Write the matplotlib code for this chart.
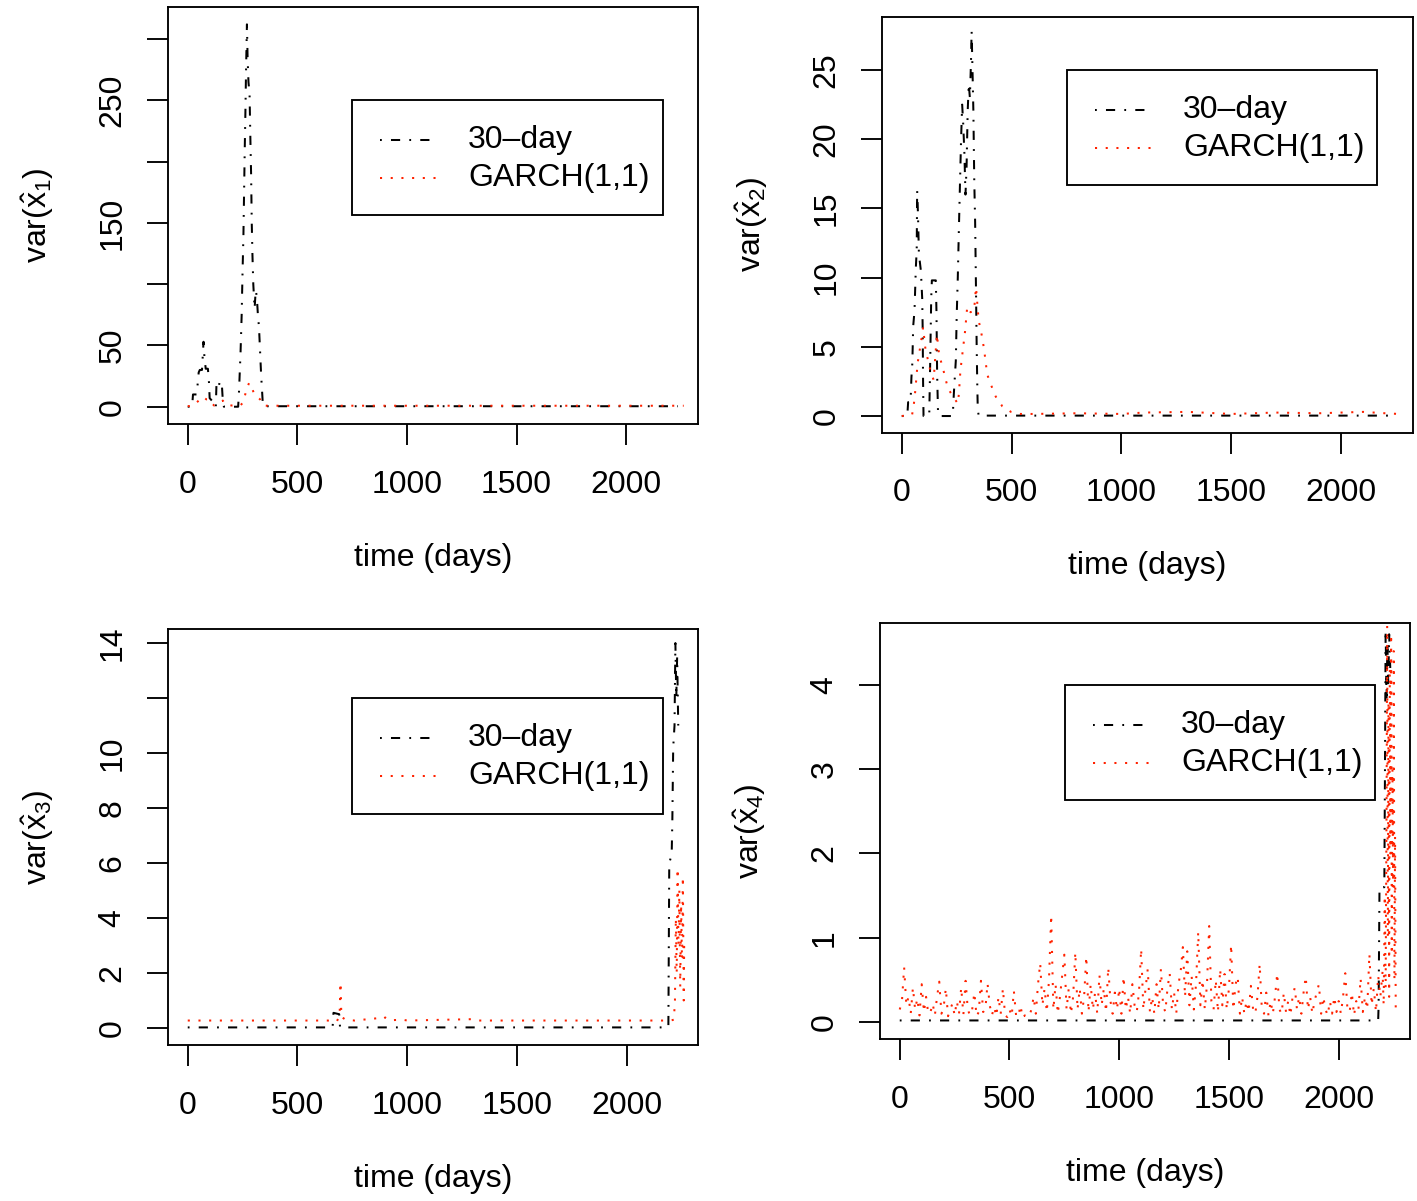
import matplotlib
matplotlib.use("Agg")
import matplotlib.pyplot as plt
from matplotlib.patches import Rectangle
from matplotlib.lines import Line2D

plt.rcParams['font.family'] = ['Liberation Sans', 'DejaVu Sans']
plt.rcParams['mathtext.fontset'] = 'custom'
plt.rcParams['mathtext.rm'] = 'Liberation Sans'
plt.rcParams['mathtext.it'] = 'Liberation Sans:italic'
plt.rcParams['mathtext.bf'] = 'Liberation Sans:bold'
plt.rcParams['lines.scale_dashes'] = False

# ---------------- data (days, values) ----------------
# Panel 1: var(x1)
p1_30_day = [0, 20, 24, 40, 44, 50, 55, 65, 72, 76, 82, 92, 97, 100, 110, 118, 128, 131, 140, 146,
             155, 160, 165, 230, 234, 241, 246, 250, 254, 257, 260, 263, 266, 270, 273, 277, 282, 285,
             289, 292, 295, 299, 302, 305, 310, 315, 320, 325, 330, 335, 340, 343, 350, 2235]
p1_30_val = [0, 0, 10, 10, 16, 28, 30, 30, 53, 41, 31, 31, 19.5, 7, 5, 0, 0, 18, 15, 20.6,
             20, 5, 0, 0, 13, 45, 75, 110, 140, 175, 210, 240, 275, 312, 285, 265, 255, 225,
             190, 150, 125, 100, 90, 80, 95, 90, 75, 65, 45, 25, 10, 0.5, 0.4, 0.4]
p1_g_day = [0, 20, 38, 50, 70, 85, 100, 115, 120, 140, 160, 170, 200, 240, 250, 258, 265, 270, 280,
            288, 295, 305, 317, 330, 340, 345, 360, 700, 1200, 1700, 2262]
p1_g_val = [0.5, 0.5, 3, 5, 8, 6, 6, 2, 1, 3, 5, 2, 1, 1, 3, 7, 12, 15, 19.5,
            16, 14, 10, 8, 6, 3, 1, 0.8, 0.8, 0.8, 0.8, 0.8]

# Panel 2: var(x2)
p2_30_day = [0, 25, 29, 40, 44, 48, 52, 58, 64, 68, 70, 74, 78, 87, 93, 95, 97, 99, 125, 129, 134,
             137, 155, 158, 161, 165, 168, 232, 237, 246, 250, 255, 260, 265, 270, 275, 280, 285, 290,
             295, 300, 305, 310, 315, 318, 322, 326, 330, 334, 338, 341, 344, 346, 350, 2235]
p2_30_val = [0, 0, 1, 1, 2.8, 3.8, 6.5, 7.6, 10.7, 12, 16.3, 14.5, 11.7, 10.5, 8.5, 6.5, 2.5, 0, 0, 3.5, 8.5,
             9.8, 9.8, 7.5, 3, 0.3, 0, 0, 1.6, 4, 7.2, 10, 13.5, 16.8, 20, 22.5, 21, 19, 16,
             18, 22, 24, 23, 25.5, 27.8, 25, 22, 17, 14, 9, 5, 2, 0.5, 0.03, 0.03]
p2_g_day = [0, 47, 54, 62, 72, 80, 90, 97, 108, 120, 130, 145, 160, 170, 185, 210, 230, 255, 260, 267,
            279, 288, 298, 313, 329, 338, 350, 361, 370, 378, 389, 410, 428, 458, 497, 540, 600, 800,
            1000, 1100, 1300, 1500, 1700, 1900, 2100, 2200, 2262]
p2_g_val = [0, 0.1, 0.7, 1.9, 3.8, 4.6, 5.6, 6.4, 4.8, 4.0, 3.3, 2.6, 5.9, 4.4, 3.6, 2.0, 1.5, 0.9, 1.6, 3.3,
            4.9, 6.1, 7.9, 7.5, 7.6, 9.3, 6.9, 6.1, 5.3, 4.4, 3.0, 2.1, 1.4, 0.7, 0.3, 0.15, 0.15, 0.2,
            0.15, 0.25, 0.3, 0.15, 0.25, 0.2, 0.3, 0.2, 0.15]

# Panel 3: var(x3)
p3_30_day = [0, 660, 664, 690, 694, 2190, 2194, 2205, 2208, 2212, 2218, 2222, 2226, 2230, 2235]
p3_30_val = [0.02, 0.02, 0.55, 0.5, 0.02, 0.02, 6.0, 6.3, 7.5, 10.2, 11, 14, 12, 13.5, 11]
p3_g_day = [0, 640, 660, 680, 692, 696, 700, 720, 760, 860, 880, 900, 920, 980, 1000, 1300, 1320,
            2200, 2215, 2220, 2224, 2228, 2232, 2236, 2240, 2244, 2248, 2252, 2256, 2260, 2262]
p3_g_val = [0.27, 0.27, 0.3, 0.25, 0.45, 1.65, 0.4, 0.3, 0.27, 0.35, 0.3, 0.38, 0.28, 0.3, 0.27, 0.32, 0.27,
            0.27, 0.3, 1.0, 4.0, 2.0, 5.8, 3.0, 5.0, 1.5, 4.5, 2.5, 5.5, 1.0, 3.0]

# Panel 4: var(x4)
p4_30_day = [0, 2180, 2182, 2186, 2208, 2211, 2214, 2218, 2222, 2226, 2230, 2235]
p4_30_val = [0.02, 0.02, 0.2, 1.6, 1.6, 3.0, 4.65, 3.8, 4.5, 4.0, 4.6, 4.2]
p4_g_day = list(range(0, 2190, 10)) + [2190, 2200, 2205, 2210, 2214, 2218, 2221, 2224, 2227, 2230,
                                       2233, 2236, 2239, 2242, 2245, 2248, 2251, 2254, 2257, 2260, 2264]
p4_g_val = [0.15, 0.25, 0.65, 0.2, 0.3, 0.1, 0.41, 0.15, 0.28, 0.08,
            0.45, 0.12, 0.3, 0.1, 0.12, 0.22, 0.08, 0.3, 0.48, 0.1,
            0.18, 0.4, 0.07, 0.15, 0.22, 0.08, 0.25, 0.1, 0.41, 0.09,
            0.49, 0.15, 0.08, 0.15, 0.35, 0.07, 0.12, 0.49, 0.12, 0.15,
            0.46, 0.2, 0.08, 0.18, 0.07, 0.3, 0.1, 0.4, 0.08, 0.06,
            0.15, 0.07, 0.37, 0.08, 0.06, 0.2, 0.05, 0.08, 0.06, 0.07,
            0.15, 0.3, 0.1, 0.45, 0.7, 0.2, 0.4, 0.12, 0.5, 1.27,
            0.15, 0.45, 0.1, 0.3, 0.55, 0.8, 0.15, 0.4, 0.1, 0.3,
            0.83, 0.15, 0.4, 0.1, 0.3, 0.78, 0.12, 0.45, 0.15, 0.35,
            0.1, 0.56, 0.2, 0.4, 0.12, 0.65, 0.25, 0.1, 0.35, 0.15,
            0.4, 0.1, 0.54, 0.15, 0.3, 0.1, 0.45, 0.2, 0.12, 0.35,
            0.87, 0.15, 0.4, 0.63, 0.12, 0.3, 0.1, 0.45, 0.15, 0.63,
            0.2, 0.12, 0.4, 0.58, 0.15, 0.35, 0.1, 0.45, 0.6, 0.89,
            0.3, 0.84, 0.2, 0.55, 0.15, 0.45, 1.07, 0.2, 0.5, 0.15,
            0.45, 1.14, 0.25, 0.15, 0.5, 0.12, 0.63, 0.2, 0.57, 0.15,
            0.4, 0.92, 0.15, 0.45, 0.54, 0.1, 0.3, 0.1, 0.25, 0.12,
            0.43, 0.15, 0.1, 0.3, 0.69, 0.15, 0.1, 0.35, 0.08, 0.25,
            0.1, 0.3, 0.58, 0.15, 0.1, 0.35, 0.12, 0.25, 0.08, 0.3,
            0.41, 0.15, 0.3, 0.1, 0.35, 0.54, 0.15, 0.3, 0.1, 0.25,
            0.35, 0.45, 0.1, 0.3, 0.15, 0.08, 0.25, 0.1, 0.3, 0.12,
            0.25, 0.1, 0.3, 0.58, 0.15, 0.12, 0.35, 0.08, 0.25, 0.15,
            0.52, 0.12, 0.3, 0.15, 0.81, 0.2, 0.4, 0.12, 0.55,
            0.3, 0.6, 0.2, 1.5, 0.4, 2.5, 4.7, 1.0, 3.8, 0.3,
            4.2, 2.0, 4.6, 0.8, 3.0, 1.6, 4.4, 0.5, 2.2, 0.15, 0.09]

x_ticks = [0, 500, 1000, 1500, 2000]
x_tick_labels = ['0', '500', '1000', '1500', '2000']
p1_yticks = [0, 50, 100, 150, 200, 250, 300]
p1_ylabels = ['0', '50', '', '150', '', '250', '']
p2_yticks = [0, 5, 10, 15, 20, 25]
p2_ylabels = ['0', '5', '10', '15', '20', '25']
p3_yticks = [0, 2, 4, 6, 8, 10, 12, 14]
p3_ylabels = ['0', '2', '4', '6', '8', '10', '', '14']
p4_yticks = [0, 1, 2, 3, 4]
p4_ylabels = ['0', '1', '2', '3', '4']
ylabels = [r'var($\hat{\mathrm{x}}_{1}$)', r'var($\hat{\mathrm{x}}_{2}$)',
           r'var($\hat{\mathrm{x}}_{3}$)', r'var($\hat{\mathrm{x}}_{4}$)']
legend_labels = ['30\u2013day', 'GARCH(1,1)']

# ---------------- layout ----------------
W, H = 1417, 1201
fig = plt.figure(figsize=(W / 100, H / 100), dpi=100)

BLACK_DASH = (0, (1.3, 6.6, 6.6, 6.6))
RED_DOT = (0, (1.5, 6.2))
RED = '#ff2200'
FS = 23
LW = 1.45
FRAME_LW = 1.35

panels = [
    dict(box=(168, 697.5, 7.3, 424), ylim=(-14.1, 325.9),
         d30=(p1_30_day, p1_30_val), dg=(p1_g_day, p1_g_val),
         yt=p1_yticks, yl=p1_ylabels, leg=(352, 663, 100, 215)),
    dict(box=(882, 1412.5, 16.7, 432.5), ylim=(-1.19, 28.85),
         d30=(p2_30_day, p2_30_val), dg=(p2_g_day, p2_g_val),
         yt=p2_yticks, yl=p2_ylabels, leg=(1067, 1377, 70, 185)),
    dict(box=(168, 698, 629.3, 1045), ylim=(-0.62, 14.5),
         d30=(p3_30_day, p3_30_val), dg=(p3_g_day, p3_g_val),
         yt=p3_yticks, yl=p3_ylabels, leg=(352, 663, 698, 814)),
    dict(box=(880, 1410, 623.3, 1039), ylim=(-0.2, 4.73),
         d30=(p4_30_day, p4_30_val), dg=(p4_g_day, p4_g_val),
         yt=p4_yticks, yl=p4_ylabels, leg=(1065, 1375, 685, 800)),
]


def fx(x):
    return x / W


def fy(y):
    return 1 - y / H


for i, p in enumerate(panels):
    l, r, t, b = p['box']
    ax = fig.add_axes([fx(l), fy(b), (r - l) / W, (b - t) / H])
    ax.plot(p['d30'][0], p['d30'][1], color='black', lw=LW, linestyle=BLACK_DASH,
            dash_capstyle='butt')
    ax.plot(p['dg'][0], p['dg'][1], color=RED, lw=LW, linestyle=RED_DOT,
            dash_capstyle='butt')
    ax.set_xlim(-90, 2325)
    ax.set_ylim(*p['ylim'])
    ax.set_xticks(x_ticks)
    ax.set_xticklabels(x_tick_labels)
    ax.set_yticks(p['yt'])
    ax.set_yticklabels(p['yl'], rotation=90, va='center')
    ax.tick_params(direction='out', length=15, width=FRAME_LW, labelsize=FS, color='black')
    ax.tick_params(axis='x', pad=18)
    ax.tick_params(axis='y', pad=14)
    for s in ax.spines.values():
        s.set_linewidth(FRAME_LW)

    # axis labels
    fig.text(fx((l + r) / 2), fy(b + 134), 'time (days)', ha='center', va='center', fontsize=FS)
    fig.text(fx(l - 130), fy((t + b) / 2), ylabels[i], ha='center', va='center',
             rotation=90, fontsize=FS)

    # legend
    ll, lr, lt, lb = p['leg']
    fig.patches.append(Rectangle((fx(ll), fy(lb)), (lr - ll) / W, (lb - lt) / H,
                                 transform=fig.transFigure, fill=False, lw=FRAME_LW,
                                 edgecolor='black'))
    y1, y2 = lt + 40, lt + 78
    fig.lines.append(Line2D([fx(ll + 28), fx(ll + 85)], [fy(y1), fy(y1)],
                            transform=fig.transFigure, color='black', lw=LW,
                            linestyle=BLACK_DASH, dash_capstyle='butt'))
    fig.lines.append(Line2D([fx(ll + 28), fx(ll + 85)], [fy(y2), fy(y2)],
                            transform=fig.transFigure, color=RED, lw=LW,
                            linestyle=RED_DOT, dash_capstyle='butt'))
    fig.text(fx(ll + 116), fy(y1), legend_labels[0], ha='left', va='center', fontsize=FS)
    fig.text(fx(ll + 116), fy(y2), legend_labels[1], ha='left', va='center', fontsize=FS)

fig.savefig('out.png', dpi=100)
